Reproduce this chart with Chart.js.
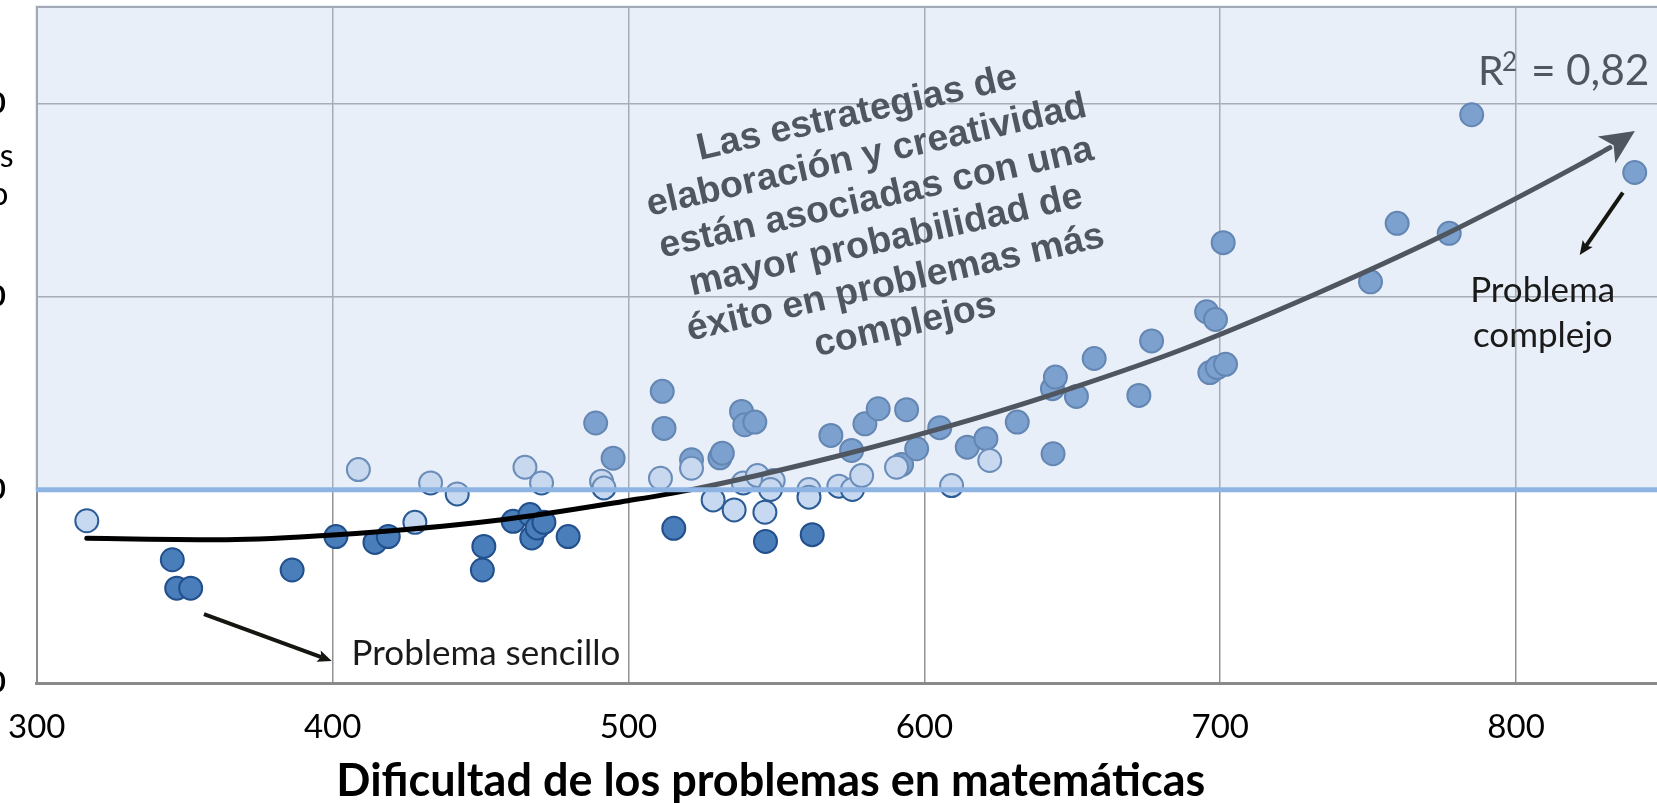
<!DOCTYPE html>
<html><head><meta charset="utf-8">
<script src="https://cdn.jsdelivr.net/npm/chart.js@4.4.1/dist/chart.umd.min.js"></script>
<style>
html,body{margin:0;padding:0;background:#fff;overflow:hidden;width:1657px;height:803px;position:relative;}
#wrap{position:absolute;left:-300px;top:0;width:1974px;height:803px;}
canvas{display:block;}
</style></head><body>
<div id="wrap"><canvas id="c" width="1974" height="803"></canvas></div>
<script>
// ---- axis ticks ----
const xTicks = [300, 400, 500, 600, 700, 800];
const yTicks = [0.9, 1.0, 1.1, 1.2];
const xTitle = 'Dificultad de los problemas en matemáticas';
const xTitleAt = 548.1;
const yTitleLines = ['Razón de probabilidades', 'de éxito'];
const threshold = 1.0;

// ---- problems (light markers) ----
const lightX = [316.9, 408.7, 433.1, 442.1, 465.0, 470.6, 427.8, 490.9, 491.7, 510.8, 521.3, 528.6, 535.7, 538.8, 543.6, 548.9, 548.0, 546.1, 561.0, 561.0, 571.1, 575.7, 578.8, 590.6, 609.2, 622.1];
const lightY = [0.984, 1.0105, 1.0036, 0.9979, 1.0117, 1.0036, 0.9832, 1.0045, 1.001, 1.006, 1.0112, 0.9948, 0.9896, 1.0036, 1.0074, 1.0048, 1.0002, 0.9884, 1.0002, 0.9962, 1.0019, 1.0002, 1.0074, 1.0117, 1.0022, 1.0152];

// ---- problems (dark markers) ----
const darkX = [345.8, 347.3, 352.0, 386.3, 401.1, 414.3, 418.8, 451.1, 450.6, 461.0, 466.7, 467.3, 469.1, 471.4, 479.6, 515.3, 546.3, 562.1,
  488.9, 494.8, 511.4, 512.0, 521.3, 530.9, 531.7, 538.2, 539.3, 542.7, 568.4, 575.4, 579.9, 584.4, 594.0, 592.3, 597.4, 605.2, 614.5, 620.8, 631.4, 643.5, 643.3, 644.3, 651.4, 657.4, 672.5, 676.8, 695.4, 698.4, 696.5, 699.0, 701.8, 701.0, 750.8, 759.8, 777.4, 785.0, 840.1];
const darkY = [0.9638, 0.9491, 0.9491, 0.9585, 0.9758, 0.9728, 0.9758, 0.9707, 0.9585, 0.9837, 0.9872, 0.9751, 0.9803, 0.9832, 0.9758, 0.9801, 0.9733, 0.9768,
  1.0346, 1.0164, 1.051, 1.0318, 1.0156, 1.0166, 1.019, 1.0406, 1.0337, 1.0351, 1.0282, 1.0204, 1.0342, 1.042, 1.0415, 1.0131, 1.0213, 1.0322, 1.0221, 1.0265, 1.0351, 1.0187, 1.0524, 1.0584, 1.0484, 1.068, 1.0489, 1.0771, 1.0922, 1.0882, 1.0607, 1.0633, 1.065, 1.128, 1.1077, 1.138, 1.1328, 1.1942, 1.1643];

// ---- trend curve ----
const curveX = [316.9, 364.2, 400.0, 456.5, 499.8, 519.6, 569.1, 618.8, 652.6, 686.4, 731.3, 776.5, 821.6, 831.7];
const curveY = [0.9749, 0.9742, 0.9766, 0.9844, 0.9944, 0.9996, 1.0169, 1.0377, 1.0541, 1.0723, 1.1008, 1.1326, 1.1685, 1.1772];

// ---- annotations (texts) ----
const mainText = ['Las estrategias de', 'elaboración y creatividad', 'están asociadas con una', 'mayor probabilidad de', 'éxito en problemas más', 'complejos'];
const mainTextAt = [578.0, 1.1896];
const r2Parts = ['R', '2', '=', '0,82'];
const r2At = [787.1, 1.2098];
const simpleText = 'Problema sencillo';
const simpleTextAt = [406.4, 0.9093];
const simpleArrow = [356.5, 0.9357, 399.7, 0.9114];
const complexText = ['Problema', 'complejo'];
const complexTextAt = [809.0, 1.0972, 1.0738];
const complexArrow = [836.1, 1.1539, 821.5, 1.1216];

const toPts = (xs, ys) => xs.map((x, i) => ({x: x, y: ys[i]}));

function arrow(ctx, x1, y1, x2, y2, w, hl, hw, col) {
  const dx = x2 - x1, dy = y2 - y1, L = Math.hypot(dx, dy);
  const ux = dx / L, uy = dy / L, nx = -uy, ny = ux;
  ctx.save();
  ctx.strokeStyle = col; ctx.fillStyle = col; ctx.lineWidth = w; ctx.lineCap = 'butt';
  ctx.beginPath(); ctx.moveTo(x1, y1); ctx.lineTo(x2 - ux * hl * 0.8, y2 - uy * hl * 0.8); ctx.stroke();
  ctx.beginPath();
  ctx.moveTo(x2, y2);
  ctx.lineTo(x2 - ux * hl + nx * hw, y2 - uy * hl + ny * hw);
  ctx.lineTo(x2 - ux * hl * 0.8, y2 - uy * hl * 0.8);
  ctx.lineTo(x2 - ux * hl - nx * hw, y2 - uy * hl - ny * hw);
  ctx.closePath(); ctx.fill();
  ctx.restore();
}

const annot = {
  id: 'annot',
  beforeDatasetsDraw(chart) {
    const {ctx, chartArea: ca} = chart;
    ctx.save();
    ctx.strokeStyle = '#8A8A8A'; ctx.lineWidth = 2;
    ctx.beginPath(); ctx.moveTo(ca.left, ca.top); ctx.lineTo(ca.right, ca.top); ctx.stroke();
    ctx.restore();
  },
  afterDatasetsDraw(chart) {
    const {ctx, chartArea: ca, scales: {x, y}} = chart;
    const px = v => x.getPixelForValue(v), py = v => y.getPixelForValue(v);
    // arrow head of trend curve
    const pts = chart.getDatasetMeta(0).data;
    const a = pts[pts.length - 2], b = pts[pts.length - 1];
    let ux = b.x - a.x, uy = b.y - a.y; const L = Math.hypot(ux, uy); ux /= L; uy /= L;
    const ang = -4 * Math.PI / 180;
    const rx = ux * Math.cos(ang) - uy * Math.sin(ang), ry = ux * Math.sin(ang) + uy * Math.cos(ang);
    const hl = 34, hw = 16;
    const tx = b.x + rx * (hl - 4), ty = b.y + ry * (hl - 4);
    const nx = -ry, ny = rx;
    ctx.save();
    ctx.fillStyle = '#000';
    ctx.beginPath();
    ctx.moveTo(tx, ty);
    ctx.lineTo(tx - rx * hl + nx * hw, ty - ry * hl + ny * hw);
    ctx.lineTo(tx - rx * hl * 0.75, ty - ry * hl * 0.75);
    ctx.lineTo(tx - rx * hl - nx * hw, ty - ry * hl - ny * hw);
    ctx.closePath(); ctx.fill();
    // main annotation (drawn black, under overlay)
    ctx.save();
    ctx.translate(px(mainTextAt[0]), py(mainTextAt[1]));
    ctx.rotate(-12.8 * Math.PI / 180);
    ctx.font = 'bold 37.5px "Liberation Sans", Arial, sans-serif';
    ctx.textAlign = 'center'; ctx.textBaseline = 'alphabetic';
    mainText.forEach((t, i) => ctx.fillText(t, 0, i * 43.5));
    ctx.restore();
    // R² label
    const rx0 = px(r2At[0]), ry0 = py(r2At[1]);
    ctx.textAlign = 'left'; ctx.textBaseline = 'alphabetic';
    ctx.font = '41px Lato, sans-serif';
    ctx.fillText(r2Parts[0], rx0, ry0);
    ctx.font = '42.5px Lato, sans-serif';
    ctx.fillText(r2Parts[2], rx0 + 53, ry0);
    ctx.fillText(r2Parts[3], rx0 + 88, ry0);
    ctx.font = '26px Lato, sans-serif';
    ctx.fillText(r2Parts[1], rx0 + 24, ry0 - 14);
    // translucent band above threshold
    const yT = py(threshold);
    ctx.fillStyle = 'rgba(200,215,237,0.4)';
    ctx.fillRect(ca.left - 2, ca.top - 2, ca.right - ca.left + 2, yT - ca.top + 2);
    ctx.strokeStyle = '#8DB4E2'; ctx.lineWidth = 5;
    ctx.beginPath(); ctx.moveTo(ca.left - 1, yT); ctx.lineTo(ca.right, yT); ctx.stroke();
    // labels on top
    ctx.fillStyle = '#1A1A1A';
    ctx.font = '35px Lato, sans-serif';
    ctx.textAlign = 'left';
    ctx.fillText(simpleText, px(simpleTextAt[0]), py(simpleTextAt[1]));
    ctx.textAlign = 'center';
    ctx.fillText(complexText[0], px(complexTextAt[0]), py(complexTextAt[1]));
    ctx.fillText(complexText[1], px(complexTextAt[0]), py(complexTextAt[2]));
    arrow(ctx, px(simpleArrow[0]), py(simpleArrow[1]), px(simpleArrow[2]), py(simpleArrow[3]), 4, 14, 6, '#161611');
    arrow(ctx, px(complexArrow[0]), py(complexArrow[1]), px(complexArrow[2]), py(complexArrow[3]), 4, 14, 6, '#161611');
    // y-axis title (horizontal)
    ctx.fillStyle = '#000';
    ctx.font = '32px Lato, sans-serif';
    ctx.textAlign = 'right'; ctx.textBaseline = 'middle';
    ctx.fillText(yTitleLines[0], ca.left - 23.3, 157);
    ctx.fillText(yTitleLines[1], ca.left - 28.3, 195);
    // x-axis title
    ctx.font = 'bold 45px Lato, sans-serif';
    ctx.textAlign = 'center'; ctx.textBaseline = 'middle';
    ctx.fillText(xTitle, px(xTitleAt), 781);
    ctx.restore();
  }
};

new Chart(document.getElementById('c'), {
  type: 'scatter',
  data: {
    datasets: [
      {label: 'Tendencia', type: 'line', data: toPts(curveX, curveY), borderColor: '#000', borderWidth: 5,
       pointRadius: 0, tension: 0.4, cubicInterpolationMode: 'monotone', fill: false, borderCapStyle: 'round'},
      {label: 'claros', data: toPts(lightX, lightY), backgroundColor: '#C6D9F1', borderColor: '#2C5C96', borderWidth: 2, pointRadius: 11.5},
      {label: 'oscuros', data: toPts(darkX, darkY), backgroundColor: '#4A7EBB', borderColor: '#22508C', borderWidth: 2, pointRadius: 11.5}
    ]
  },
  options: {
    responsive: false, animation: false, devicePixelRatio: 1,
    layout: {autoPadding: false, padding: {left: 0, right: 10, top: 7, bottom: 0}},
    plugins: {legend: {display: false}, tooltip: {enabled: false}},
    scales: {
      x: {
        type: 'linear', min: 300, max: 850,
        afterBuildTicks: s => { s.ticks = xTicks.map(v => ({value: v})); },
        afterFit: s => { s.height = 120; s.paddingLeft = 0; s.paddingRight = 0; },
        grid: {color: '#929292', lineWidth: 1.5, drawTicks: false},
        border: {color: '#8A8A8A', width: 3},
        ticks: {padding: 25, autoSkip: false, maxRotation: 0, color: '#000', font: {family: 'Lato', size: 33}},
        title: {display: false}
      },
      y: {
        type: 'linear', min: 0.9, max: 1.25,
        afterBuildTicks: s => { s.ticks = yTicks.map(v => ({value: v})); },
        afterFit: s => { s.width = 336.8; s.paddingTop = 0; s.paddingBottom = 0; },
        grid: {color: c => (c.tick && Math.abs(c.tick.value - threshold) < 1e-9) ? 'rgba(0,0,0,0)' : '#929292', lineWidth: 1.5, drawTicks: false},
        border: {color: '#8A8A8A', width: 2},
        ticks: {padding: 31, color: '#000', font: {family: 'Lato', size: 29, weight: 'bold'},
                callback: v => v.toFixed(2).replace('.', ',')}
      }
    }
  },
  plugins: [annot]
});
</script>
</body></html>
